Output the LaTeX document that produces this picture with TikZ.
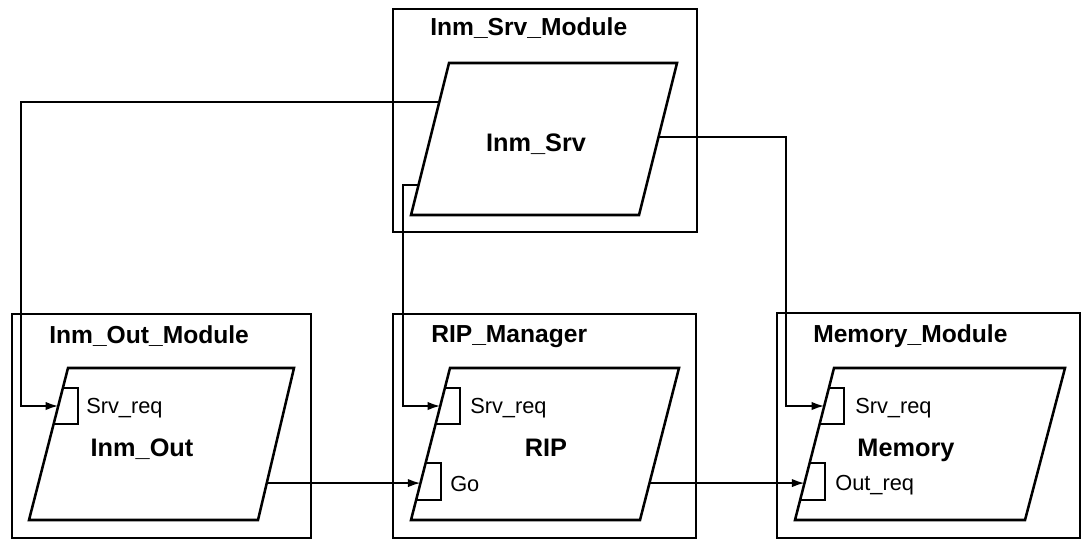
\documentclass[tikz,border=0pt]{standalone}
\usepackage{fontspec}
\setmainfont{Liberation Sans}
\usepackage{tikz}
\usetikzlibrary{calc,arrows.meta}

\tikzset{
  module/.style={draw,line width=2pt},
  task/.style={draw,line width=1.8pt,line join=miter},
  port/.style={draw,line width=1.4pt},
  call/.style={draw,line width=1.3pt,-{Latex[length=9pt,width=6pt]}},
  title/.style={font=\bfseries\fontsize{17.5}{20}\selectfont,anchor=base west,inner sep=0pt},
  taskname/.style={font=\bfseries\fontsize{18}{20}\selectfont,anchor=base,inner sep=0pt},
  entry/.style={font=\fontsize{15.5}{18}\selectfont,anchor=base west,inner sep=0pt}
}

\begin{document}
\begin{tikzpicture}[x=0.025cm,y=-0.025cm]
  \path[use as bounding box,fill=white] (0,0) rectangle (1082,540);

  % module frames
  \draw[module] (393,9) rectangle (697,232);
  \draw[module] (12,314) rectangle (311,538);
  \draw[module] (393,314) rectangle (696,538);
  \draw[module] (777,313) rectangle (1080,538);
  \node[title] (srvtitle) at (430,35) {Inm\_Srv\_Module};
  \node[title] (outtitle) at (49,343) {Inm\_Out\_Module};
  \node[title] (riptitle) at (431,342) {RIP\_Manager};
  \node[title] (memtitle) at (813,342) {Memory\_Module};

  % tasks
  \draw[task] (411,215) coordinate (srv-bl) -- (639,215) coordinate (srv-br)
    -- (677,63) coordinate (srv-tr) -- (449,63) coordinate (srv-tl) -- cycle;
  \draw[task] (29,520) coordinate (out-bl) -- (258,520) coordinate (out-br)
    -- (294,368) coordinate (out-tr) -- (68,368) coordinate (out-tl) -- cycle;
  \draw[task] (411,520) coordinate (rip-bl) -- (640,520) coordinate (rip-br)
    -- (679,368) coordinate (rip-tr) -- (450,368) coordinate (rip-tl) -- cycle;
  \draw[task] (795,520) coordinate (mem-bl) -- (1025,520) coordinate (mem-br)
    -- (1065,368) coordinate (mem-tr) -- (834,368) coordinate (mem-tl) -- cycle;
  \node[taskname] (srvname) at (536,151) {Inm\_Srv};
  \node[taskname] (outname) at (142,456) {Inm\_Out};
  \node[taskname] (ripname) at (546,456) {RIP};
  \node[taskname] (memname) at (906,456) {Memory};

  % entries
  \foreach \t/\a/\b in {out/0.868/0.632,rip/0.868/0.632,rip/0.375/0.132,mem/0.868/0.632,mem/0.375/0.132}
    \draw[port] ($(\t-bl)!\a!(\t-tl)$) -- ++(15,0) |- ($(\t-bl)!\b!(\t-tl)$);
  \coordinate (out-srvreq) at ($(out-bl)!0.75!(out-tl)$);
  \coordinate (rip-srvreq) at ($(rip-bl)!0.75!(rip-tl)$);
  \coordinate (rip-go) at ($(rip-bl)!0.243!(rip-tl)$);
  \coordinate (mem-srvreq) at ($(mem-bl)!0.75!(mem-tl)$);
  \coordinate (mem-outreq) at ($(mem-bl)!0.243!(mem-tl)$);
  \node[entry] (outsrvreq) at (86,413) {Srv\_req};
  \node[entry] (ripsrvreq) at (470,413) {Srv\_req};
  \node[entry] (ripgo) at (450,491) {Go};
  \node[entry] (memsrvreq) at (855,413) {Srv\_req};
  \node[entry] (memoutreq) at (835,490) {Out\_req};

  % calls
  \coordinate (srv-a) at ($(srv-bl)!0.743!(srv-tl)$);
  \coordinate (srv-b) at ($(srv-bl)!0.197!(srv-tl)$);
  \coordinate (srv-c) at ($(srv-br)!0.513!(srv-tr)$);
  \coordinate (out-go) at ($(out-br)!0.243!(out-tr)$);
  \coordinate (rip-out) at ($(rip-br)!0.243!(rip-tr)$);
  \draw[call] (srv-a) -| ($(out-srvreq)+(-37,0)$) -- (out-srvreq);
  \draw[call] (srv-b) -| ($(rip-srvreq)+(-37,0)$) -- (rip-srvreq);
  \draw[call] (srv-c) -| ($(mem-srvreq)+(-38,0)$) -- (mem-srvreq);
  \draw[call] (out-go) -- (rip-go);
  \draw[call] (rip-out) -- (mem-outreq);
\end{tikzpicture}
\end{document}
